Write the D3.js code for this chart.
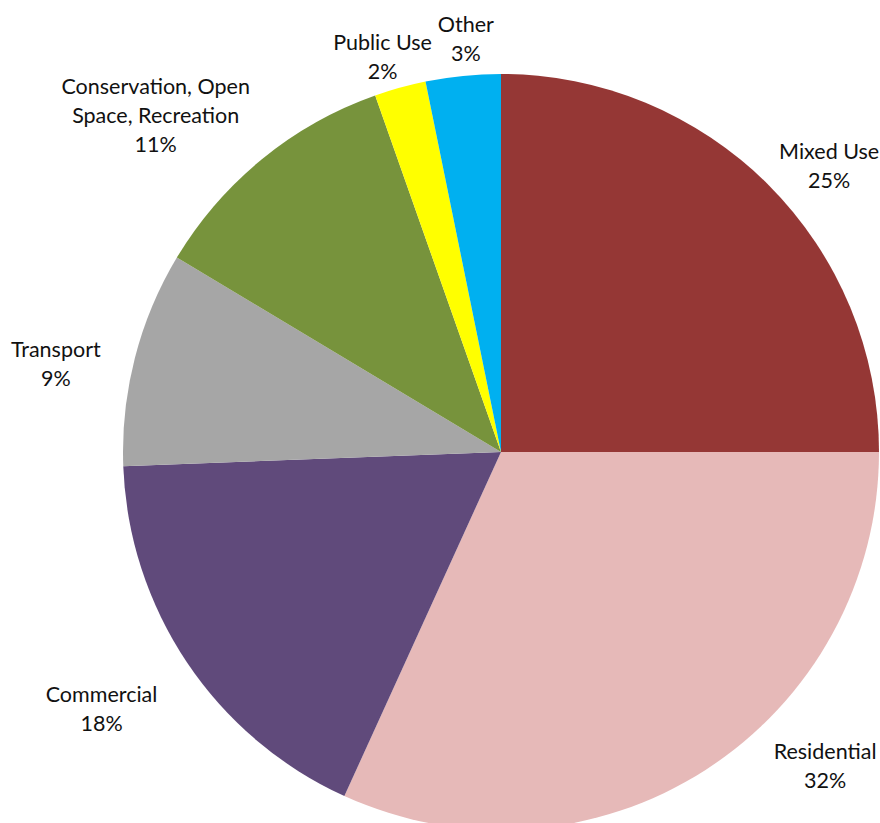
<!DOCTYPE html>
<html>
<head>
<meta charset="utf-8">
<script src="https://cdn.jsdelivr.net/npm/d3@7"></script>
<style>
  html, body { margin: 0; padding: 0; background: #fff; }
  svg { display: block; }
  text { font-family: Lato, "Open Sans", "Liberation Sans", sans-serif; fill: #111; }
</style>
</head>
<body>
<svg id="chart" width="880" height="823"></svg>
<script>
// Land use shares (percent of total area), clockwise from 12 o'clock
const categories = ["Mixed Use", "Residential", "Commercial", "Transport",
                    "Conservation, Open Space, Recreation", "Public Use", "Other"];
const shares = [25, 31.8, 17.6, 9.2, 11, 2.2, 3.2];
const colors = ["#953735", "#E6B9B8", "#604A7B", "#A6A6A6", "#77933C", "#FFFF00", "#00B0F0"];
// Label line breaks for each category
const labelLines = [["Mixed Use"], ["Residential"], ["Commercial"], ["Transport"],
                    ["Conservation, Open", "Space, Recreation"], ["Public Use"], ["Other"]];

const cx = 501, cy = 452, R = 378;
const lineH = 29;

const data = categories.map((c, i) => ({ name: c, value: shares[i], color: colors[i], lines: labelLines[i] }));
const total = d3.sum(shares);
const fmt = v => Math.round(v / total * 100) + "%";

const svg = d3.select("#chart");
const g = svg.append("g").attr("transform", `translate(${cx},${cy})`);

const pie = d3.pie().value(d => d.value).sort(null);
const arc = d3.arc().innerRadius(0).outerRadius(R);
const arcs = pie(data);

g.selectAll("path.slice")
  .data(arcs)
  .join("path")
  .attr("class", "slice")
  .attr("d", arc)
  .attr("fill", d => d.data.color);

// Outside labels: anchored on a ring beyond the pie at each slice's mid-angle,
// then nudged so the text blocks stay clear of the pie and the page edges.
const labelRing = d3.arc().innerRadius(440).outerRadius(440);
const labelShift = {
  "Mixed Use": [17, 25],
  "Residential": [86, -57],
  "Commercial": [-34, 11],
  "Transport": [-19, 21],
  "Conservation, Open Space, Recreation": [-67, 4],
  "Public Use": [-1, 29],
  "Other": [9, 24]
};

const labels = g.selectAll("g.label")
  .data(arcs)
  .join("g")
  .attr("class", "label")
  .attr("transform", d => {
    const [x, y] = labelRing.centroid(d);
    const s = labelShift[d.data.name];
    return `translate(${x + s[0]},${y + s[1]})`;
  });

labels.each(function(d) {
  const lines = d.data.lines.concat([fmt(d.data.value)]);
  const n = lines.length;
  d3.select(this).selectAll("text")
    .data(lines)
    .join("text")
    .attr("text-anchor", "middle")
    .attr("dominant-baseline", "central")
    .attr("y", (t, i) => (i - (n - 1) / 2) * lineH)
    .attr("font-size", 21.5)
    .text(t => t);
});
</script>
</body>
</html>
